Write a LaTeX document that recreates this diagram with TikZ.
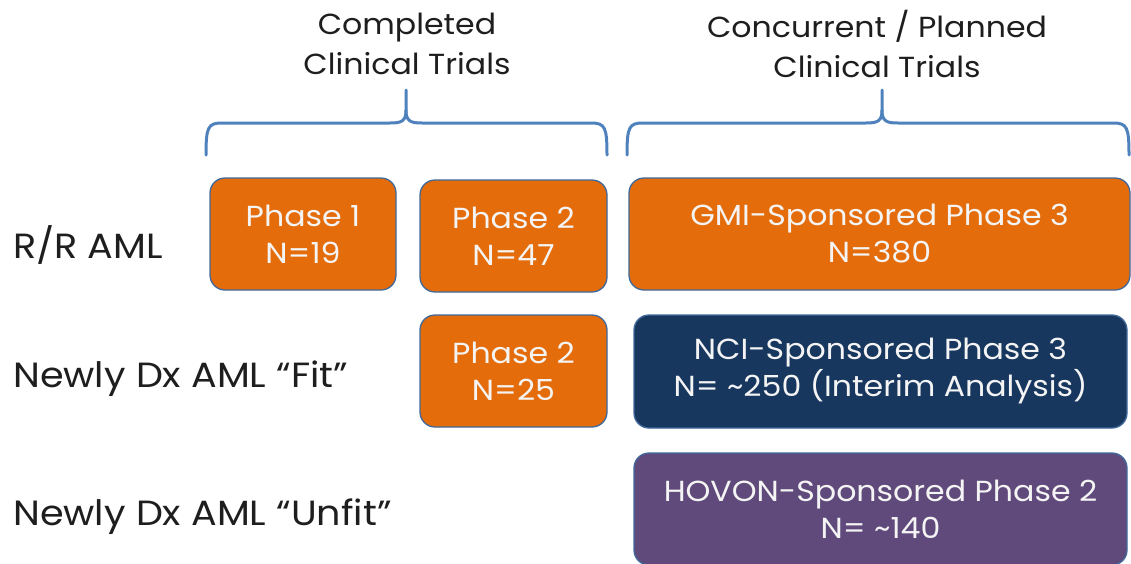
\documentclass[tikz,border=0pt]{standalone}
\usepackage{fontspec}
\setmainfont[FakeStretch=1.09]{Poppins}
\definecolor{trialorange}{HTML}{E46C0A}
\definecolor{trialnavy}{HTML}{17375E}
\definecolor{trialpurple}{HTML}{604A7B}
\definecolor{trialedge}{HTML}{41689A}
\definecolor{bracecol}{HTML}{4F81BD}
\definecolor{textdark}{HTML}{1E1E1E}
\definecolor{textlight}{HTML}{F4F4F4}
\tikzset{
  trialbox/.style={draw=trialedge, line width=1.3pt, rounded corners=15pt,
    text=textlight, align=center, inner sep=0pt,
    font=\fontsize{29}{37}\selectfont},
  header/.style={text=textdark, align=center, inner sep=0pt,
    font=\fontsize{29}{40}\selectfont},
  rowlabel/.style={text=textdark, anchor=base west, inner sep=0pt,
    font=\fontsize{35}{40}\selectfont},
  bracket/.style={draw=bracecol, line width=3pt, line cap=round, line join=round}
}
\begin{document}
\begin{tikzpicture}[x=1pt, y=-1pt]
\useasboundingbox (0,0) rectangle (1131,563);
\clip (0,0) rectangle (1131,563);

% column headers
\node[header] (hdone) at (407,44) {Completed\\Clinical Trials};
\node[header] (hplan) at (877,44) {Concurrent / Planned\\Clinical Trials};

% curly brackets under the headers
\coordinate (bl1) at (206,155);
\coordinate (bt1) at (406,90);
\coordinate (br1) at (607,155);
\coordinate (bl2) at (627,155);
\coordinate (bt2) at (882,90);
\coordinate (br2) at (1129,155);
\draw[bracket] (bl1) .. controls (206,127) and (208,123) .. (222,123)
  -- (390,123) .. controls (402,123) and (406,121) .. (406,110) -- (bt1);
\draw[bracket] (406,110) .. controls (406,121) and (410,123) .. (422,123)
  -- (591,123) .. controls (605,123) and (607,127) .. (br1);
\draw[bracket] (bl2) .. controls (627,127) and (629,123) .. (643,123)
  -- (866,123) .. controls (878,123) and (882,121) .. (882,110) -- (bt2);
\draw[bracket] (882,110) .. controls (882,121) and (886,123) .. (898,123)
  -- (1113,123) .. controls (1127,123) and (1129,127) .. (br2);

% row labels
\node[rowlabel] (rr) at (13,258) {R/R AML};
\node[rowlabel] (fit) at (13,387) {Newly Dx AML “Fit”};
\node[rowlabel] (unfit) at (13,525) {Newly Dx AML “Unfit”};

% trial boxes
\node[trialbox, fill=trialorange, minimum width=186pt, minimum height=112pt]
  (p1) at (303,234) {Phase 1\\N=19};
\node[trialbox, fill=trialorange, minimum width=187pt, minimum height=112pt]
  (p2a) at (513.5,236) {Phase 2\\N=47};
\node[trialbox, fill=trialorange, minimum width=187pt, minimum height=112pt]
  (p2b) at (513.5,371) {Phase 2\\N=25};
\node[trialbox, fill=trialorange, minimum width=501pt, minimum height=112pt]
  (gmi) at (879.5,234) {GMI-Sponsored Phase 3\\N=380};
\node[trialbox, fill=trialnavy, minimum width=493pt, minimum height=113pt]
  (nci) at (880.5,371.5) {NCI-Sponsored Phase 3\\N= \char`~250 (Interim Analysis)};
\node[trialbox, fill=trialpurple, minimum width=493pt, minimum height=112pt]
  (hov) at (880.5,509) {HOVON-Sponsored Phase 2\\N= \char`~140};
\end{tikzpicture}
\end{document}
